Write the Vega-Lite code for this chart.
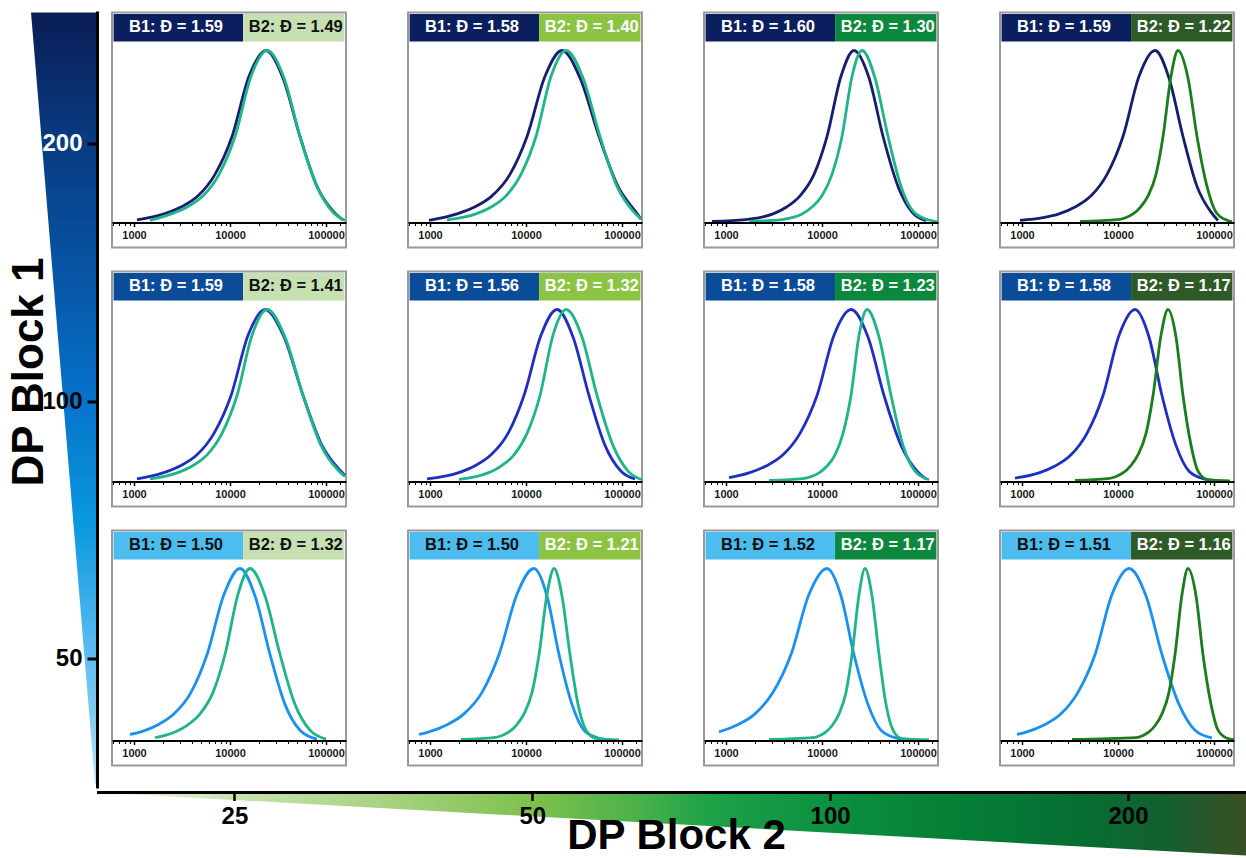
{
  "$schema": "https://vega.github.io/schema/vega-lite/v6.json",
  "padding": {"left": 0, "top": 11.5, "right": 0, "bottom": 0},
  "background": "white",
  "spacing": 0,
  "config": {"view": {"stroke": null}, "font": "Liberation Sans", "axis": {"grid": false}},
  "datasets": {
    "leftWedge": [{"dp1": 284.6, "thickness": 1.0}, {"dp1": 35.7, "thickness": 0.03}],
    "bottomWedge": [{"dp2": 18.16, "depth": 0}, {"dp2": 263.2, "depth": 1}],
    "grid": [
      {"dp1":200,"dp2":25,"b1Dispersity":1.59,"b2Dispersity":1.49},
      {"dp1":200,"dp2":50,"b1Dispersity":1.58,"b2Dispersity":1.40},
      {"dp1":200,"dp2":100,"b1Dispersity":1.60,"b2Dispersity":1.30},
      {"dp1":200,"dp2":200,"b1Dispersity":1.59,"b2Dispersity":1.22},
      {"dp1":100,"dp2":25,"b1Dispersity":1.59,"b2Dispersity":1.41},
      {"dp1":100,"dp2":50,"b1Dispersity":1.56,"b2Dispersity":1.32},
      {"dp1":100,"dp2":100,"b1Dispersity":1.58,"b2Dispersity":1.23},
      {"dp1":100,"dp2":200,"b1Dispersity":1.58,"b2Dispersity":1.17},
      {"dp1":50,"dp2":25,"b1Dispersity":1.50,"b2Dispersity":1.32},
      {"dp1":50,"dp2":50,"b1Dispersity":1.50,"b2Dispersity":1.21},
      {"dp1":50,"dp2":100,"b1Dispersity":1.52,"b2Dispersity":1.17},
      {"dp1":50,"dp2":200,"b1Dispersity":1.51,"b2Dispersity":1.16},

      {"dp1":200,"dp2":25,"block":"B1","logMW":3.031,"intensity":0.015},
      {"dp1":200,"dp2":25,"block":"B1","logMW":3.313,"intensity":0.05},
      {"dp1":200,"dp2":25,"block":"B1","logMW":3.490,"intensity":0.09},
      {"dp1":200,"dp2":25,"block":"B1","logMW":3.667,"intensity":0.155},
      {"dp1":200,"dp2":25,"block":"B1","logMW":3.844,"intensity":0.28},
      {"dp1":200,"dp2":25,"block":"B1","logMW":4.021,"intensity":0.5},
      {"dp1":200,"dp2":25,"block":"B1","logMW":4.198,"intensity":0.85},
      {"dp1":200,"dp2":25,"block":"B1","logMW":4.375,"intensity":1},
      {"dp1":200,"dp2":25,"block":"B1","logMW":4.552,"intensity":0.84},
      {"dp1":200,"dp2":25,"block":"B1","logMW":4.729,"intensity":0.5},
      {"dp1":200,"dp2":25,"block":"B1","logMW":4.906,"intensity":0.21},
      {"dp1":200,"dp2":25,"block":"B1","logMW":5.083,"intensity":0.06},
      {"dp1":200,"dp2":25,"block":"B1","logMW":5.177,"intensity":0.015},

      {"dp1":200,"dp2":25,"block":"B2","logMW":3.167,"intensity":0.012},
      {"dp1":200,"dp2":25,"block":"B2","logMW":3.386,"intensity":0.05},
      {"dp1":200,"dp2":25,"block":"B2","logMW":3.553,"intensity":0.09},
      {"dp1":200,"dp2":25,"block":"B2","logMW":3.719,"intensity":0.155},
      {"dp1":200,"dp2":25,"block":"B2","logMW":3.886,"intensity":0.28},
      {"dp1":200,"dp2":25,"block":"B2","logMW":4.052,"intensity":0.5},
      {"dp1":200,"dp2":25,"block":"B2","logMW":4.219,"intensity":0.85},
      {"dp1":200,"dp2":25,"block":"B2","logMW":4.386,"intensity":1},
      {"dp1":200,"dp2":25,"block":"B2","logMW":4.563,"intensity":0.84},
      {"dp1":200,"dp2":25,"block":"B2","logMW":4.729,"intensity":0.5},
      {"dp1":200,"dp2":25,"block":"B2","logMW":4.906,"intensity":0.21},
      {"dp1":200,"dp2":25,"block":"B2","logMW":5.073,"intensity":0.06},
      {"dp1":200,"dp2":25,"block":"B2","logMW":5.198,"intensity":0.012},

      {"dp1":200,"dp2":50,"block":"B1","logMW":2.990,"intensity":0.012},
      {"dp1":200,"dp2":50,"block":"B1","logMW":3.281,"intensity":0.05},
      {"dp1":200,"dp2":50,"block":"B1","logMW":3.464,"intensity":0.09},
      {"dp1":200,"dp2":50,"block":"B1","logMW":3.646,"intensity":0.155},
      {"dp1":200,"dp2":50,"block":"B1","logMW":3.833,"intensity":0.28},
      {"dp1":200,"dp2":50,"block":"B1","logMW":4.011,"intensity":0.5},
      {"dp1":200,"dp2":50,"block":"B1","logMW":4.198,"intensity":0.85},
      {"dp1":200,"dp2":50,"block":"B1","logMW":4.375,"intensity":1},
      {"dp1":200,"dp2":50,"block":"B1","logMW":4.563,"intensity":0.84},
      {"dp1":200,"dp2":50,"block":"B1","logMW":4.761,"intensity":0.5},
      {"dp1":200,"dp2":50,"block":"B1","logMW":4.958,"intensity":0.21},
      {"dp1":200,"dp2":50,"block":"B1","logMW":5.146,"intensity":0.06},
      {"dp1":200,"dp2":50,"block":"B1","logMW":5.198,"intensity":0.02},

      {"dp1":200,"dp2":50,"block":"B2","logMW":3.177,"intensity":0.015},
      {"dp1":200,"dp2":50,"block":"B2","logMW":3.479,"intensity":0.05},
      {"dp1":200,"dp2":50,"block":"B2","logMW":3.636,"intensity":0.09},
      {"dp1":200,"dp2":50,"block":"B2","logMW":3.792,"intensity":0.155},
      {"dp1":200,"dp2":50,"block":"B2","logMW":3.948,"intensity":0.28},
      {"dp1":200,"dp2":50,"block":"B2","logMW":4.104,"intensity":0.5},
      {"dp1":200,"dp2":50,"block":"B2","logMW":4.261,"intensity":0.85},
      {"dp1":200,"dp2":50,"block":"B2","logMW":4.417,"intensity":1},
      {"dp1":200,"dp2":50,"block":"B2","logMW":4.594,"intensity":0.84},
      {"dp1":200,"dp2":50,"block":"B2","logMW":4.771,"intensity":0.5},
      {"dp1":200,"dp2":50,"block":"B2","logMW":4.948,"intensity":0.21},
      {"dp1":200,"dp2":50,"block":"B2","logMW":5.125,"intensity":0.06},
      {"dp1":200,"dp2":50,"block":"B2","logMW":5.198,"intensity":0.02},

      {"dp1":200,"dp2":100,"block":"B1","logMW":2.854,"intensity":0.006},
      {"dp1":200,"dp2":100,"block":"B1","logMW":3.208,"intensity":0.017},
      {"dp1":200,"dp2":100,"block":"B1","logMW":3.349,"intensity":0.028},
      {"dp1":200,"dp2":100,"block":"B1","logMW":3.490,"intensity":0.05},
      {"dp1":200,"dp2":100,"block":"B1","logMW":3.631,"intensity":0.09},
      {"dp1":200,"dp2":100,"block":"B1","logMW":3.771,"intensity":0.155},
      {"dp1":200,"dp2":100,"block":"B1","logMW":3.917,"intensity":0.28},
      {"dp1":200,"dp2":100,"block":"B1","logMW":4.052,"intensity":0.5},
      {"dp1":200,"dp2":100,"block":"B1","logMW":4.198,"intensity":0.85},
      {"dp1":200,"dp2":100,"block":"B1","logMW":4.333,"intensity":1},
      {"dp1":200,"dp2":100,"block":"B1","logMW":4.490,"intensity":0.84},
      {"dp1":200,"dp2":100,"block":"B1","logMW":4.636,"intensity":0.5},
      {"dp1":200,"dp2":100,"block":"B1","logMW":4.792,"intensity":0.21},
      {"dp1":200,"dp2":100,"block":"B1","logMW":4.938,"intensity":0.06},
      {"dp1":200,"dp2":100,"block":"B1","logMW":5.083,"intensity":0.01},

      {"dp1":200,"dp2":100,"block":"B2","logMW":3.240,"intensity":0.006},
      {"dp1":200,"dp2":100,"block":"B2","logMW":3.583,"intensity":0.017},
      {"dp1":200,"dp2":100,"block":"B2","logMW":3.688,"intensity":0.028},
      {"dp1":200,"dp2":100,"block":"B2","logMW":3.792,"intensity":0.05},
      {"dp1":200,"dp2":100,"block":"B2","logMW":3.896,"intensity":0.09},
      {"dp1":200,"dp2":100,"block":"B2","logMW":4.000,"intensity":0.155},
      {"dp1":200,"dp2":100,"block":"B2","logMW":4.104,"intensity":0.28},
      {"dp1":200,"dp2":100,"block":"B2","logMW":4.208,"intensity":0.5},
      {"dp1":200,"dp2":100,"block":"B2","logMW":4.313,"intensity":0.85},
      {"dp1":200,"dp2":100,"block":"B2","logMW":4.417,"intensity":1},
      {"dp1":200,"dp2":100,"block":"B2","logMW":4.552,"intensity":0.84},
      {"dp1":200,"dp2":100,"block":"B2","logMW":4.688,"intensity":0.5},
      {"dp1":200,"dp2":100,"block":"B2","logMW":4.823,"intensity":0.21},
      {"dp1":200,"dp2":100,"block":"B2","logMW":4.958,"intensity":0.06},
      {"dp1":200,"dp2":100,"block":"B2","logMW":5.125,"intensity":0.013},
      {"dp1":200,"dp2":100,"block":"B2","logMW":5.208,"intensity":0.004},

      {"dp1":200,"dp2":200,"block":"B1","logMW":2.979,"intensity":0.012},
      {"dp1":200,"dp2":200,"block":"B1","logMW":3.219,"intensity":0.028},
      {"dp1":200,"dp2":200,"block":"B1","logMW":3.386,"intensity":0.05},
      {"dp1":200,"dp2":200,"block":"B1","logMW":3.553,"intensity":0.09},
      {"dp1":200,"dp2":200,"block":"B1","logMW":3.719,"intensity":0.155},
      {"dp1":200,"dp2":200,"block":"B1","logMW":3.886,"intensity":0.28},
      {"dp1":200,"dp2":200,"block":"B1","logMW":4.052,"intensity":0.5},
      {"dp1":200,"dp2":200,"block":"B1","logMW":4.219,"intensity":0.85},
      {"dp1":200,"dp2":200,"block":"B1","logMW":4.386,"intensity":1},
      {"dp1":200,"dp2":200,"block":"B1","logMW":4.531,"intensity":0.84},
      {"dp1":200,"dp2":200,"block":"B1","logMW":4.677,"intensity":0.5},
      {"dp1":200,"dp2":200,"block":"B1","logMW":4.823,"intensity":0.21},
      {"dp1":200,"dp2":200,"block":"B1","logMW":4.969,"intensity":0.06},
      {"dp1":200,"dp2":200,"block":"B1","logMW":5.042,"intensity":0.012},

      {"dp1":200,"dp2":200,"block":"B2","logMW":3.604,"intensity":0.006},
      {"dp1":200,"dp2":200,"block":"B2","logMW":4.000,"intensity":0.017},
      {"dp1":200,"dp2":200,"block":"B2","logMW":4.078,"intensity":0.028},
      {"dp1":200,"dp2":200,"block":"B2","logMW":4.156,"intensity":0.05},
      {"dp1":200,"dp2":200,"block":"B2","logMW":4.235,"intensity":0.09},
      {"dp1":200,"dp2":200,"block":"B2","logMW":4.313,"intensity":0.155},
      {"dp1":200,"dp2":200,"block":"B2","logMW":4.396,"intensity":0.28},
      {"dp1":200,"dp2":200,"block":"B2","logMW":4.469,"intensity":0.5},
      {"dp1":200,"dp2":200,"block":"B2","logMW":4.552,"intensity":0.85},
      {"dp1":200,"dp2":200,"block":"B2","logMW":4.625,"intensity":1},
      {"dp1":200,"dp2":200,"block":"B2","logMW":4.729,"intensity":0.84},
      {"dp1":200,"dp2":200,"block":"B2","logMW":4.823,"intensity":0.5},
      {"dp1":200,"dp2":200,"block":"B2","logMW":4.927,"intensity":0.21},
      {"dp1":200,"dp2":200,"block":"B2","logMW":5.021,"intensity":0.06},
      {"dp1":200,"dp2":200,"block":"B2","logMW":5.136,"intensity":0.013},
      {"dp1":200,"dp2":200,"block":"B2","logMW":5.188,"intensity":0.004},

      {"dp1":100,"dp2":25,"block":"B1","logMW":3.031,"intensity":0.015},
      {"dp1":100,"dp2":25,"block":"B1","logMW":3.302,"intensity":0.05},
      {"dp1":100,"dp2":25,"block":"B1","logMW":3.479,"intensity":0.09},
      {"dp1":100,"dp2":25,"block":"B1","logMW":3.656,"intensity":0.155},
      {"dp1":100,"dp2":25,"block":"B1","logMW":3.833,"intensity":0.28},
      {"dp1":100,"dp2":25,"block":"B1","logMW":4.011,"intensity":0.5},
      {"dp1":100,"dp2":25,"block":"B1","logMW":4.188,"intensity":0.85},
      {"dp1":100,"dp2":25,"block":"B1","logMW":4.365,"intensity":1},
      {"dp1":100,"dp2":25,"block":"B1","logMW":4.563,"intensity":0.84},
      {"dp1":100,"dp2":25,"block":"B1","logMW":4.761,"intensity":0.5},
      {"dp1":100,"dp2":25,"block":"B1","logMW":4.958,"intensity":0.21},
      {"dp1":100,"dp2":25,"block":"B1","logMW":5.156,"intensity":0.06},
      {"dp1":100,"dp2":25,"block":"B1","logMW":5.198,"intensity":0.035},

      {"dp1":100,"dp2":25,"block":"B2","logMW":3.167,"intensity":0.015},
      {"dp1":100,"dp2":25,"block":"B2","logMW":3.448,"intensity":0.05},
      {"dp1":100,"dp2":25,"block":"B2","logMW":3.605,"intensity":0.09},
      {"dp1":100,"dp2":25,"block":"B2","logMW":3.761,"intensity":0.155},
      {"dp1":100,"dp2":25,"block":"B2","logMW":3.917,"intensity":0.28},
      {"dp1":100,"dp2":25,"block":"B2","logMW":4.073,"intensity":0.5},
      {"dp1":100,"dp2":25,"block":"B2","logMW":4.229,"intensity":0.85},
      {"dp1":100,"dp2":25,"block":"B2","logMW":4.386,"intensity":1},
      {"dp1":100,"dp2":25,"block":"B2","logMW":4.573,"intensity":0.84},
      {"dp1":100,"dp2":25,"block":"B2","logMW":4.761,"intensity":0.5},
      {"dp1":100,"dp2":25,"block":"B2","logMW":4.948,"intensity":0.21},
      {"dp1":100,"dp2":25,"block":"B2","logMW":5.136,"intensity":0.06},
      {"dp1":100,"dp2":25,"block":"B2","logMW":5.198,"intensity":0.03},

      {"dp1":100,"dp2":50,"block":"B1","logMW":2.969,"intensity":0.015},
      {"dp1":100,"dp2":50,"block":"B1","logMW":3.292,"intensity":0.05},
      {"dp1":100,"dp2":50,"block":"B1","logMW":3.464,"intensity":0.09},
      {"dp1":100,"dp2":50,"block":"B1","logMW":3.636,"intensity":0.155},
      {"dp1":100,"dp2":50,"block":"B1","logMW":3.813,"intensity":0.28},
      {"dp1":100,"dp2":50,"block":"B1","logMW":3.979,"intensity":0.5},
      {"dp1":100,"dp2":50,"block":"B1","logMW":4.156,"intensity":0.85},
      {"dp1":100,"dp2":50,"block":"B1","logMW":4.323,"intensity":1},
      {"dp1":100,"dp2":50,"block":"B1","logMW":4.490,"intensity":0.84},
      {"dp1":100,"dp2":50,"block":"B1","logMW":4.656,"intensity":0.5},
      {"dp1":100,"dp2":50,"block":"B1","logMW":4.823,"intensity":0.21},
      {"dp1":100,"dp2":50,"block":"B1","logMW":4.990,"intensity":0.06},
      {"dp1":100,"dp2":50,"block":"B1","logMW":5.136,"intensity":0.015},

      {"dp1":100,"dp2":50,"block":"B2","logMW":3.302,"intensity":0.012},
      {"dp1":100,"dp2":50,"block":"B2","logMW":3.604,"intensity":0.05},
      {"dp1":100,"dp2":50,"block":"B2","logMW":3.740,"intensity":0.09},
      {"dp1":100,"dp2":50,"block":"B2","logMW":3.875,"intensity":0.155},
      {"dp1":100,"dp2":50,"block":"B2","logMW":4.011,"intensity":0.28},
      {"dp1":100,"dp2":50,"block":"B2","logMW":4.146,"intensity":0.5},
      {"dp1":100,"dp2":50,"block":"B2","logMW":4.281,"intensity":0.85},
      {"dp1":100,"dp2":50,"block":"B2","logMW":4.417,"intensity":1},
      {"dp1":100,"dp2":50,"block":"B2","logMW":4.583,"intensity":0.84},
      {"dp1":100,"dp2":50,"block":"B2","logMW":4.740,"intensity":0.5},
      {"dp1":100,"dp2":50,"block":"B2","logMW":4.906,"intensity":0.21},
      {"dp1":100,"dp2":50,"block":"B2","logMW":5.063,"intensity":0.06},
      {"dp1":100,"dp2":50,"block":"B2","logMW":5.208,"intensity":0.01},

      {"dp1":100,"dp2":100,"block":"B1","logMW":3.031,"intensity":0.022},
      {"dp1":100,"dp2":100,"block":"B1","logMW":3.240,"intensity":0.05},
      {"dp1":100,"dp2":100,"block":"B1","logMW":3.417,"intensity":0.09},
      {"dp1":100,"dp2":100,"block":"B1","logMW":3.594,"intensity":0.155},
      {"dp1":100,"dp2":100,"block":"B1","logMW":3.771,"intensity":0.28},
      {"dp1":100,"dp2":100,"block":"B1","logMW":3.948,"intensity":0.5},
      {"dp1":100,"dp2":100,"block":"B1","logMW":4.125,"intensity":0.85},
      {"dp1":100,"dp2":100,"block":"B1","logMW":4.302,"intensity":1},
      {"dp1":100,"dp2":100,"block":"B1","logMW":4.479,"intensity":0.84},
      {"dp1":100,"dp2":100,"block":"B1","logMW":4.646,"intensity":0.5},
      {"dp1":100,"dp2":100,"block":"B1","logMW":4.823,"intensity":0.21},
      {"dp1":100,"dp2":100,"block":"B1","logMW":4.990,"intensity":0.06},
      {"dp1":100,"dp2":100,"block":"B1","logMW":5.083,"intensity":0.015},

      {"dp1":100,"dp2":100,"block":"B2","logMW":3.448,"intensity":0.006},
      {"dp1":100,"dp2":100,"block":"B2","logMW":3.802,"intensity":0.017},
      {"dp1":100,"dp2":100,"block":"B2","logMW":3.886,"intensity":0.028},
      {"dp1":100,"dp2":100,"block":"B2","logMW":3.969,"intensity":0.05},
      {"dp1":100,"dp2":100,"block":"B2","logMW":4.053,"intensity":0.09},
      {"dp1":100,"dp2":100,"block":"B2","logMW":4.136,"intensity":0.155},
      {"dp1":100,"dp2":100,"block":"B2","logMW":4.219,"intensity":0.28},
      {"dp1":100,"dp2":100,"block":"B2","logMW":4.302,"intensity":0.5},
      {"dp1":100,"dp2":100,"block":"B2","logMW":4.386,"intensity":0.85},
      {"dp1":100,"dp2":100,"block":"B2","logMW":4.469,"intensity":1},
      {"dp1":100,"dp2":100,"block":"B2","logMW":4.594,"intensity":0.84},
      {"dp1":100,"dp2":100,"block":"B2","logMW":4.719,"intensity":0.5},
      {"dp1":100,"dp2":100,"block":"B2","logMW":4.844,"intensity":0.21},
      {"dp1":100,"dp2":100,"block":"B2","logMW":4.969,"intensity":0.06},
      {"dp1":100,"dp2":100,"block":"B2","logMW":5.115,"intensity":0.01},

      {"dp1":100,"dp2":200,"block":"B1","logMW":2.927,"intensity":0.02},
      {"dp1":100,"dp2":200,"block":"B1","logMW":3.177,"intensity":0.05},
      {"dp1":100,"dp2":200,"block":"B1","logMW":3.344,"intensity":0.09},
      {"dp1":100,"dp2":200,"block":"B1","logMW":3.511,"intensity":0.155},
      {"dp1":100,"dp2":200,"block":"B1","logMW":3.677,"intensity":0.28},
      {"dp1":100,"dp2":200,"block":"B1","logMW":3.844,"intensity":0.5},
      {"dp1":100,"dp2":200,"block":"B1","logMW":4.011,"intensity":0.85},
      {"dp1":100,"dp2":200,"block":"B1","logMW":4.177,"intensity":1},
      {"dp1":100,"dp2":200,"block":"B1","logMW":4.323,"intensity":0.84},
      {"dp1":100,"dp2":200,"block":"B1","logMW":4.458,"intensity":0.5},
      {"dp1":100,"dp2":200,"block":"B1","logMW":4.604,"intensity":0.21},
      {"dp1":100,"dp2":200,"block":"B1","logMW":4.740,"intensity":0.06},
      {"dp1":100,"dp2":200,"block":"B1","logMW":4.906,"intensity":0.013},
      {"dp1":100,"dp2":200,"block":"B1","logMW":4.979,"intensity":0.004},

      {"dp1":100,"dp2":200,"block":"B2","logMW":3.552,"intensity":0.006},
      {"dp1":100,"dp2":200,"block":"B2","logMW":3.896,"intensity":0.017},
      {"dp1":100,"dp2":200,"block":"B2","logMW":3.974,"intensity":0.028},
      {"dp1":100,"dp2":200,"block":"B2","logMW":4.052,"intensity":0.05},
      {"dp1":100,"dp2":200,"block":"B2","logMW":4.130,"intensity":0.09},
      {"dp1":100,"dp2":200,"block":"B2","logMW":4.208,"intensity":0.155},
      {"dp1":100,"dp2":200,"block":"B2","logMW":4.292,"intensity":0.28},
      {"dp1":100,"dp2":200,"block":"B2","logMW":4.365,"intensity":0.5},
      {"dp1":100,"dp2":200,"block":"B2","logMW":4.448,"intensity":0.85},
      {"dp1":100,"dp2":200,"block":"B2","logMW":4.521,"intensity":1},
      {"dp1":100,"dp2":200,"block":"B2","logMW":4.604,"intensity":0.84},
      {"dp1":100,"dp2":200,"block":"B2","logMW":4.677,"intensity":0.5},
      {"dp1":100,"dp2":200,"block":"B2","logMW":4.761,"intensity":0.21},
      {"dp1":100,"dp2":200,"block":"B2","logMW":4.833,"intensity":0.06},
      {"dp1":100,"dp2":200,"block":"B2","logMW":4.927,"intensity":0.013},
      {"dp1":100,"dp2":200,"block":"B2","logMW":5.167,"intensity":0.004},

      {"dp1":50,"dp2":25,"block":"B1","logMW":2.958,"intensity":0.035},
      {"dp1":50,"dp2":25,"block":"B1","logMW":3.073,"intensity":0.05},
      {"dp1":50,"dp2":25,"block":"B1","logMW":3.245,"intensity":0.09},
      {"dp1":50,"dp2":25,"block":"B1","logMW":3.417,"intensity":0.155},
      {"dp1":50,"dp2":25,"block":"B1","logMW":3.594,"intensity":0.28},
      {"dp1":50,"dp2":25,"block":"B1","logMW":3.761,"intensity":0.5},
      {"dp1":50,"dp2":25,"block":"B1","logMW":3.938,"intensity":0.85},
      {"dp1":50,"dp2":25,"block":"B1","logMW":4.104,"intensity":1},
      {"dp1":50,"dp2":25,"block":"B1","logMW":4.261,"intensity":0.84},
      {"dp1":50,"dp2":25,"block":"B1","logMW":4.417,"intensity":0.5},
      {"dp1":50,"dp2":25,"block":"B1","logMW":4.573,"intensity":0.21},
      {"dp1":50,"dp2":25,"block":"B1","logMW":4.729,"intensity":0.06},
      {"dp1":50,"dp2":25,"block":"B1","logMW":4.906,"intensity":0.008},

      {"dp1":50,"dp2":25,"block":"B2","logMW":3.219,"intensity":0.017},
      {"dp1":50,"dp2":25,"block":"B2","logMW":3.427,"intensity":0.05},
      {"dp1":50,"dp2":25,"block":"B2","logMW":3.558,"intensity":0.09},
      {"dp1":50,"dp2":25,"block":"B2","logMW":3.688,"intensity":0.155},
      {"dp1":50,"dp2":25,"block":"B2","logMW":3.823,"intensity":0.28},
      {"dp1":50,"dp2":25,"block":"B2","logMW":3.948,"intensity":0.5},
      {"dp1":50,"dp2":25,"block":"B2","logMW":4.083,"intensity":0.85},
      {"dp1":50,"dp2":25,"block":"B2","logMW":4.208,"intensity":1},
      {"dp1":50,"dp2":25,"block":"B2","logMW":4.365,"intensity":0.84},
      {"dp1":50,"dp2":25,"block":"B2","logMW":4.521,"intensity":0.5},
      {"dp1":50,"dp2":25,"block":"B2","logMW":4.677,"intensity":0.21},
      {"dp1":50,"dp2":25,"block":"B2","logMW":4.833,"intensity":0.06},
      {"dp1":50,"dp2":25,"block":"B2","logMW":5.000,"intensity":0.008},

      {"dp1":50,"dp2":50,"block":"B1","logMW":2.886,"intensity":0.035},
      {"dp1":50,"dp2":50,"block":"B1","logMW":2.990,"intensity":0.05},
      {"dp1":50,"dp2":50,"block":"B1","logMW":3.172,"intensity":0.09},
      {"dp1":50,"dp2":50,"block":"B1","logMW":3.354,"intensity":0.155},
      {"dp1":50,"dp2":50,"block":"B1","logMW":3.542,"intensity":0.28},
      {"dp1":50,"dp2":50,"block":"B1","logMW":3.719,"intensity":0.5},
      {"dp1":50,"dp2":50,"block":"B1","logMW":3.906,"intensity":0.85},
      {"dp1":50,"dp2":50,"block":"B1","logMW":4.083,"intensity":1},
      {"dp1":50,"dp2":50,"block":"B1","logMW":4.219,"intensity":0.84},
      {"dp1":50,"dp2":50,"block":"B1","logMW":4.344,"intensity":0.5},
      {"dp1":50,"dp2":50,"block":"B1","logMW":4.479,"intensity":0.21},
      {"dp1":50,"dp2":50,"block":"B1","logMW":4.604,"intensity":0.06},
      {"dp1":50,"dp2":50,"block":"B1","logMW":4.761,"intensity":0.013},
      {"dp1":50,"dp2":50,"block":"B1","logMW":4.865,"intensity":0.004},

      {"dp1":50,"dp2":50,"block":"B2","logMW":3.323,"intensity":0.006},
      {"dp1":50,"dp2":50,"block":"B2","logMW":3.667,"intensity":0.017},
      {"dp1":50,"dp2":50,"block":"B2","logMW":3.745,"intensity":0.028},
      {"dp1":50,"dp2":50,"block":"B2","logMW":3.823,"intensity":0.05},
      {"dp1":50,"dp2":50,"block":"B2","logMW":3.901,"intensity":0.09},
      {"dp1":50,"dp2":50,"block":"B2","logMW":3.979,"intensity":0.155},
      {"dp1":50,"dp2":50,"block":"B2","logMW":4.063,"intensity":0.28},
      {"dp1":50,"dp2":50,"block":"B2","logMW":4.136,"intensity":0.5},
      {"dp1":50,"dp2":50,"block":"B2","logMW":4.219,"intensity":0.85},
      {"dp1":50,"dp2":50,"block":"B2","logMW":4.292,"intensity":1},
      {"dp1":50,"dp2":50,"block":"B2","logMW":4.375,"intensity":0.84},
      {"dp1":50,"dp2":50,"block":"B2","logMW":4.458,"intensity":0.5},
      {"dp1":50,"dp2":50,"block":"B2","logMW":4.542,"intensity":0.21},
      {"dp1":50,"dp2":50,"block":"B2","logMW":4.625,"intensity":0.06},
      {"dp1":50,"dp2":50,"block":"B2","logMW":4.729,"intensity":0.013},
      {"dp1":50,"dp2":50,"block":"B2","logMW":4.969,"intensity":0.004},

      {"dp1":50,"dp2":100,"block":"B1","logMW":2.927,"intensity":0.05},
      {"dp1":50,"dp2":100,"block":"B1","logMW":3.115,"intensity":0.09},
      {"dp1":50,"dp2":100,"block":"B1","logMW":3.302,"intensity":0.155},
      {"dp1":50,"dp2":100,"block":"B1","logMW":3.490,"intensity":0.28},
      {"dp1":50,"dp2":100,"block":"B1","logMW":3.677,"intensity":0.5},
      {"dp1":50,"dp2":100,"block":"B1","logMW":3.865,"intensity":0.85},
      {"dp1":50,"dp2":100,"block":"B1","logMW":4.052,"intensity":1},
      {"dp1":50,"dp2":100,"block":"B1","logMW":4.198,"intensity":0.84},
      {"dp1":50,"dp2":100,"block":"B1","logMW":4.333,"intensity":0.5},
      {"dp1":50,"dp2":100,"block":"B1","logMW":4.479,"intensity":0.21},
      {"dp1":50,"dp2":100,"block":"B1","logMW":4.615,"intensity":0.06},
      {"dp1":50,"dp2":100,"block":"B1","logMW":4.781,"intensity":0.013},
      {"dp1":50,"dp2":100,"block":"B1","logMW":4.906,"intensity":0.004},

      {"dp1":50,"dp2":100,"block":"B2","logMW":3.448,"intensity":0.006},
      {"dp1":50,"dp2":100,"block":"B2","logMW":3.906,"intensity":0.017},
      {"dp1":50,"dp2":100,"block":"B2","logMW":3.974,"intensity":0.028},
      {"dp1":50,"dp2":100,"block":"B2","logMW":4.042,"intensity":0.05},
      {"dp1":50,"dp2":100,"block":"B2","logMW":4.110,"intensity":0.09},
      {"dp1":50,"dp2":100,"block":"B2","logMW":4.177,"intensity":0.155},
      {"dp1":50,"dp2":100,"block":"B2","logMW":4.250,"intensity":0.28},
      {"dp1":50,"dp2":100,"block":"B2","logMW":4.313,"intensity":0.5},
      {"dp1":50,"dp2":100,"block":"B2","logMW":4.386,"intensity":0.85},
      {"dp1":50,"dp2":100,"block":"B2","logMW":4.448,"intensity":1},
      {"dp1":50,"dp2":100,"block":"B2","logMW":4.521,"intensity":0.84},
      {"dp1":50,"dp2":100,"block":"B2","logMW":4.594,"intensity":0.5},
      {"dp1":50,"dp2":100,"block":"B2","logMW":4.667,"intensity":0.21},
      {"dp1":50,"dp2":100,"block":"B2","logMW":4.740,"intensity":0.06},
      {"dp1":50,"dp2":100,"block":"B2","logMW":4.823,"intensity":0.013},
      {"dp1":50,"dp2":100,"block":"B2","logMW":5.115,"intensity":0.004},

      {"dp1":50,"dp2":200,"block":"B1","logMW":2.948,"intensity":0.035},
      {"dp1":50,"dp2":200,"block":"B1","logMW":3.052,"intensity":0.05},
      {"dp1":50,"dp2":200,"block":"B1","logMW":3.229,"intensity":0.09},
      {"dp1":50,"dp2":200,"block":"B1","logMW":3.406,"intensity":0.155},
      {"dp1":50,"dp2":200,"block":"B1","logMW":3.583,"intensity":0.28},
      {"dp1":50,"dp2":200,"block":"B1","logMW":3.761,"intensity":0.5},
      {"dp1":50,"dp2":200,"block":"B1","logMW":3.938,"intensity":0.85},
      {"dp1":50,"dp2":200,"block":"B1","logMW":4.115,"intensity":1},
      {"dp1":50,"dp2":200,"block":"B1","logMW":4.292,"intensity":0.84},
      {"dp1":50,"dp2":200,"block":"B1","logMW":4.458,"intensity":0.5},
      {"dp1":50,"dp2":200,"block":"B1","logMW":4.636,"intensity":0.21},
      {"dp1":50,"dp2":200,"block":"B1","logMW":4.802,"intensity":0.06},
      {"dp1":50,"dp2":200,"block":"B1","logMW":4.979,"intensity":0.015},

      {"dp1":50,"dp2":200,"block":"B2","logMW":3.521,"intensity":0.006},
      {"dp1":50,"dp2":200,"block":"B2","logMW":4.188,"intensity":0.017},
      {"dp1":50,"dp2":200,"block":"B2","logMW":4.256,"intensity":0.028},
      {"dp1":50,"dp2":200,"block":"B2","logMW":4.323,"intensity":0.05},
      {"dp1":50,"dp2":200,"block":"B2","logMW":4.391,"intensity":0.09},
      {"dp1":50,"dp2":200,"block":"B2","logMW":4.458,"intensity":0.155},
      {"dp1":50,"dp2":200,"block":"B2","logMW":4.531,"intensity":0.28},
      {"dp1":50,"dp2":200,"block":"B2","logMW":4.594,"intensity":0.5},
      {"dp1":50,"dp2":200,"block":"B2","logMW":4.667,"intensity":0.85},
      {"dp1":50,"dp2":200,"block":"B2","logMW":4.729,"intensity":1},
      {"dp1":50,"dp2":200,"block":"B2","logMW":4.813,"intensity":0.84},
      {"dp1":50,"dp2":200,"block":"B2","logMW":4.885,"intensity":0.5},
      {"dp1":50,"dp2":200,"block":"B2","logMW":4.969,"intensity":0.21},
      {"dp1":50,"dp2":200,"block":"B2","logMW":5.042,"intensity":0.06},
      {"dp1":50,"dp2":200,"block":"B2","logMW":5.136,"intensity":0.013},
      {"dp1":50,"dp2":200,"block":"B2","logMW":5.208,"intensity":0.005}
    ]
  },
  "vconcat": [
    {
      "bounds": "flush",
      "spacing": 15,
      "hconcat": [
        {
          "width": 97,
          "height": 774,
          "data": {"name": "leftWedge"},
          "mark": {
            "type": "area",
            "orient": "horizontal",
            "fill": {
              "gradient": "linear", "x1": 0, "y1": 0, "x2": 0, "y2": 1,
              "stops": [
                {"offset": 0, "color": "#0b1d55"},
                {"offset": 0.17, "color": "#083c82"},
                {"offset": 0.33, "color": "#0753a3"},
                {"offset": 0.49, "color": "#0670c8"},
                {"offset": 0.66, "color": "#0a97e0"},
                {"offset": 0.8, "color": "#4db6ee"},
                {"offset": 0.92, "color": "#86cdf3"},
                {"offset": 1, "color": "#b6e2f8"}
              ]
            }
          },
          "encoding": {
            "y": {
              "field": "dp1", "type": "quantitative",
              "scale": {"type": "log", "domain": [35.43, 284.6], "nice": false},
              "axis": {
                "orient": "left", "offset": -97, "values": [50, 100, 200], "format": "d",
                "title": "DP Block 1", "titleFontSize": 44, "titleFontWeight": "bold", "titleColor": "black",
                "titleX": -55, "titleY": 359, "titleBaseline": "alphabetic",
                "domainColor": "black", "domainWidth": 3, "domainCap": "square",
                "tickColor": "black", "tickSize": 10, "tickWidth": 3,
                "labelFontSize": 24, "labelFontWeight": "bold", "labelPadding": 5,
                "labelColor": {"condition": {"test": "datum.value == 200", "value": "white"}, "value": "black"},
                "zindex": 1, "grid": false
              }
            },
            "x": {"field": "thickness", "type": "quantitative", "scale": {"domain": [0, 1.47], "reverse": true, "nice": false, "zero": false}, "axis": null},
            "x2": {"datum": 0}
          }
        },
        {
          "data": {"name": "grid"},
          "bounds": "flush",
          "spacing": {"row": 24, "column": 62},
          "resolve": {"axis": {"x": "independent"}},
          "facet": {
            "row": {"field": "dp1", "type": "ordinal", "sort": "descending", "header": null},
            "column": {"field": "dp2", "type": "ordinal", "sort": "ascending", "header": null}
          },
          "spec": {
            "width": 234,
            "height": 235,
            "view": {"stroke": "#9a9a9a", "strokeWidth": 2},
            "resolve": {"scale": {"color": "independent"}, "axis": {"x": "independent"}},
            "layer": [
              {
                "transform": [{"filter": "isValid(datum.b1Dispersity)"}],
                "mark": {"type": "rect"},
                "encoding": {
                  "x": {"datum": 2.787, "type": "quantitative", "scale": {"domain": [2.7708, 5.2083], "nice": false, "zero": false}, "axis": null},
                  "x2": {"datum": 4.136},
                  "y": {"datum": 1.2122, "type": "quantitative", "scale": {"domain": [-0.1453, 1.2209], "nice": false, "zero": false}, "axis": null},
                  "y2": {"datum": 1.0523},
                  "color": {"field": "dp1", "type": "ordinal", "scale": {"domain": [200, 100, 50], "range": ["#0b1f5e", "#0b4c98", "#4dbdef"]}, "legend": null}
                }
              },
              {
                "transform": [{"filter": "isValid(datum.b2Dispersity)"}],
                "mark": {"type": "rect"},
                "encoding": {
                  "x": {"datum": 4.136, "type": "quantitative", "axis": null},
                  "x2": {"datum": 5.192},
                  "y": {"datum": 1.2122, "type": "quantitative", "axis": null},
                  "y2": {"datum": 1.0523},
                  "color": {"field": "dp2", "type": "ordinal", "scale": {"domain": [25, 50, 100, 200], "range": ["#c6e0b2", "#8cc342", "#0b883d", "#2d5a27"]}, "legend": null}
                }
              },
              {
                "transform": [
                  {"filter": "isValid(datum.b1Dispersity)"},
                  {"calculate": "'B1: Đ = ' + format(datum.b1Dispersity, '.2f')", "as": "b1Label"}
                ],
                "mark": {"type": "text", "align": "left", "baseline": "middle", "fontSize": 16.5, "fontWeight": "bold"},
                "encoding": {
                  "x": {"datum": 2.948, "type": "quantitative", "axis": null},
                  "y": {"datum": 1.1337, "type": "quantitative", "axis": null},
                  "text": {"field": "b1Label"},
                  "color": {"field": "dp1", "type": "ordinal", "scale": {"domain": [200, 100, 50], "range": ["#ffffff", "#ffffff", "#111111"]}, "legend": null}
                }
              },
              {
                "transform": [
                  {"filter": "isValid(datum.b2Dispersity)"},
                  {"calculate": "'B2: Đ = ' + format(datum.b2Dispersity, '.2f')", "as": "b2Label"}
                ],
                "mark": {"type": "text", "align": "left", "baseline": "middle", "fontSize": 16.5, "fontWeight": "bold"},
                "encoding": {
                  "x": {"datum": 4.195, "type": "quantitative", "axis": null},
                  "y": {"datum": 1.1337, "type": "quantitative", "axis": null},
                  "text": {"field": "b2Label"},
                  "color": {"field": "dp2", "type": "ordinal", "scale": {"domain": [25, 50, 100, 200], "range": ["#111111", "#ffffff", "#ffffff", "#ffffff"]}, "legend": null}
                }
              },
              {
                "transform": [{"filter": "datum.block == 'B1'"}],
                "mark": {"type": "line", "strokeWidth": 2.8, "interpolate": "monotone"},
                "encoding": {
                  "x": {
                    "field": "logMW", "type": "quantitative",
                    "axis": {
                      "orient": "bottom", "offset": -25, "title": null,
                      "values": [3, 4, 5],
                      "labelExpr": "format(pow(10, datum.value), 'd')",
                      "domainColor": "black", "domainWidth": 2,
                      "tickColor": "black", "tickSize": 4, "tickWidth": 1.5,
                      "labelFontSize": 11, "labelFontWeight": "bold", "labelColor": "#1a1a1a", "labelPadding": 3,
                      "labelFlush": false, "labelOverlap": false, "zindex": 1, "grid": false
                    }
                  },
                  "y": {"field": "intensity", "type": "quantitative", "axis": null},
                  "color": {"field": "dp1", "type": "ordinal", "scale": {"domain": [200, 100, 50], "range": ["#151f6e", "#1f2fbf", "#1a90f0"]}, "legend": null}
                }
              },
              {
                "transform": [{"filter": "datum.block == 'B2'"}],
                "mark": {"type": "line", "strokeWidth": 2.8, "interpolate": "monotone"},
                "encoding": {
                  "x": {
                    "field": "logMW", "type": "quantitative",
                    "axis": {
                      "orient": "bottom", "offset": -25, "title": null,
                      "values": [2.778, 2.845, 2.903, 2.954, 3.301, 3.477, 3.602, 3.699, 3.778, 3.845, 3.903, 3.954, 4.301, 4.477, 4.602, 4.699, 4.778, 4.845, 4.903, 4.954, 5.146],
                      "labels": false, "domain": false,
                      "tickColor": "black", "tickSize": 3, "tickWidth": 1,
                      "zindex": 1, "grid": false
                    }
                  },
                  "y": {"field": "intensity", "type": "quantitative", "axis": null},
                  "color": {"field": "dp2", "type": "ordinal", "scale": {"domain": [25, 50, 100, 200], "range": ["#1fb48a", "#1fb48a", "#1fb48a", "#1b7d1b"]}, "legend": null}
                }
              }
            ]
          }
        }
      ]
    },
    {
      "width": 1246,
      "height": 68,
      "data": {"name": "bottomWedge"},
      "layer": [
        {
          "mark": {
            "type": "area",
            "fill": {
              "gradient": "linear", "x1": 0, "y1": 0, "x2": 1, "y2": 0,
              "stops": [
                {"offset": 0, "color": "#eef6e6"},
                {"offset": 0.116, "color": "#c9e3b0"},
                {"offset": 0.25, "color": "#a8d283"},
                {"offset": 0.384, "color": "#7cc04b"},
                {"offset": 0.47, "color": "#4bb04a"},
                {"offset": 0.53, "color": "#1fa348"},
                {"offset": 0.64, "color": "#0a9040"},
                {"offset": 0.75, "color": "#067e36"},
                {"offset": 0.85, "color": "#066f33"},
                {"offset": 0.93, "color": "#145f30"},
                {"offset": 1, "color": "#3b4f25"}
              ]
            }
          },
          "encoding": {
            "x": {
              "field": "dp2", "type": "quantitative",
              "scale": {"type": "log", "base": 2, "domain": [14.49, 263.2], "nice": false},
              "axis": {
                "orient": "bottom", "offset": -68, "values": [25, 50, 100, 200], "format": "d",
                "domain": false,
                "tickColor": "black", "tickSize": 8, "tickWidth": 2.5,
                "labelFontSize": 24, "labelFontWeight": "bold", "labelColor": "black", "labelPadding": 4,
                "labelFlush": false,
                "title": "DP Block 2", "titleFontSize": 42, "titleFontWeight": "bold", "titleColor": "black",
                "titleX": 676, "titleY": 65, "titleBaseline": "bottom",
                "zindex": 1, "grid": false
              }
            },
            "y": {"field": "depth", "type": "quantitative", "stack": null, "scale": {"domain": [0, 1.079], "reverse": true, "nice": false, "zero": false}, "axis": null},
            "y2": {"datum": 0}
          }
        },
        {
          "mark": {"type": "line", "color": "black", "strokeWidth": 3},
          "encoding": {
            "x": {"field": "dp2", "type": "quantitative"},
            "y": {"datum": 0, "type": "quantitative"}
          }
        }
      ]
    }
  ]
}
